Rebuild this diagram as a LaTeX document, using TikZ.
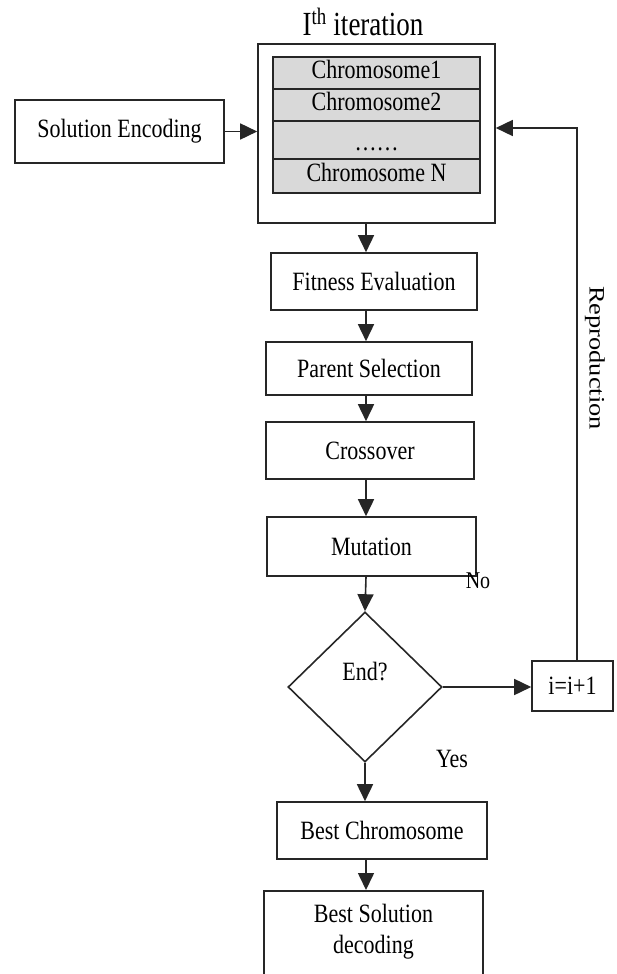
\documentclass[tikz,border=0pt]{standalone}
\usepackage{fontspec}
\usepackage{graphicx}
\setmainfont{Liberation Serif}
\usetikzlibrary{arrows.meta,shapes.geometric}
% text is set slightly taller than wide
\newcommand\tallt[1]{\scalebox{1}[1.2]{#1}}
\tikzset{
  ln/.style={draw=black!85, line width=1.6pt},
  box/.style={ln, rectangle, inner sep=0pt, font=\fontsize{22}{26}\selectfont},
  row/.style={box, fill=black!15, minimum width=207pt, text height=15pt, text depth=4pt},
  lbl/.style={inner sep=0pt, font=\fontsize{22}{26}\selectfont},
  arr/.style={ln, -{Triangle[length=17pt,width=16pt]}},
}
\begin{document}
\begin{tikzpicture}[x=1pt,y=-1pt]
\useasboundingbox (0,0) rectangle (616,974);
\clip (0,0) rectangle (616,974);

% iteration block with its population
\node[lbl, font=\fontsize{27}{30}\selectfont] (title) at (363,22) {\scalebox{1}[1.25]{I\textsuperscript{th} iteration}};
\node[box, minimum width=237pt, minimum height=179pt] (iter) at (376.5,133.5) {};
\node[row, minimum height=32pt] (r1) at (376.5,73) {\tallt{Chromosome1}};
\node[row, minimum height=32pt] (r2) at (376.5,105) {\tallt{Chromosome2}};
\node[row, minimum height=38pt] (r3) at (376.5,140) {\raisebox{-5pt}{\tallt{……}}};
\node[row, minimum height=34pt] (r4) at (376.5,176) {\tallt{Chromosome N}};

% main chain
\node[box, minimum width=209pt, minimum height=63pt] (enc) at (119.5,131.5) {\tallt{Solution Encoding}};
\node[box, minimum width=206pt, minimum height=57pt] (fit) at (374,281.5) {\tallt{Fitness Evaluation}};
\node[box, minimum width=206pt, minimum height=53pt] (par) at (369,368.5) {\tallt{Parent Selection}};
\node[box, minimum width=208pt, minimum height=57pt] (cro) at (370,450.5) {\tallt{Crossover}};
\node[box, minimum width=209pt, minimum height=59pt] (mut) at (371.5,546.5) {\tallt{Mutation}};
\node[ln, diamond, inner sep=0pt, minimum width=154pt, minimum height=150pt] (dec?) at (365,687) {};
\node[lbl] (endtxt) at (365,672) {\tallt{End?}};
\node[box, minimum width=81pt, minimum height=50pt] (inc) at (572.5,686) {\tallt{i=i+1}};
\node[box, minimum width=210pt, minimum height=57pt] (best) at (382,830.5) {\tallt{Best Chromosome}};
\node[box, anchor=north, minimum width=219pt, minimum height=110pt] (dec) at (373.5,890) {};
\node[lbl, align=center] (dectxt) at (373.5,932)
  {\scalebox{1}[1.2]{\begin{tabular}{@{}c@{}}Best Solution\\decoding\end{tabular}}};

% labels
\node[lbl, font=\fontsize{20}{24}\selectfont] (no) at (478,581) {\tallt{No}};
\node[lbl] (yes) at (452,759) {\tallt{Yes}};
\node[lbl] (repro) at (595,358) {\rotatebox{-90}{\scalebox{1.2}[1]{Reproduction}}};

% connectors
\coordinate (axis) at (366,0);
\draw[arr] (enc.east) -- (iter.west |- enc.east);
\draw[arr] (iter.south -| axis) -- (fit.north -| axis);
\draw[arr] (fit.south -| axis) -- (par.north -| axis);
\draw[arr] (par.south -| axis) -- (cro.north -| axis);
\draw[arr] (cro.south -| axis) -- (mut.north -| axis);
\draw[arr] (mut.south -| axis) -- (dec?.north);
\draw[arr] (dec?.east) -- (inc.west |- dec?.east);
\draw[arr] ([xshift=4.5pt]inc.north) |- ([yshift=5.5pt]iter.east);
\draw[arr] (dec?.south) -- (best.north -| dec?.south);
\draw[arr] (best.south -| axis) -- (dec.north -| axis);
\end{tikzpicture}
\end{document}
